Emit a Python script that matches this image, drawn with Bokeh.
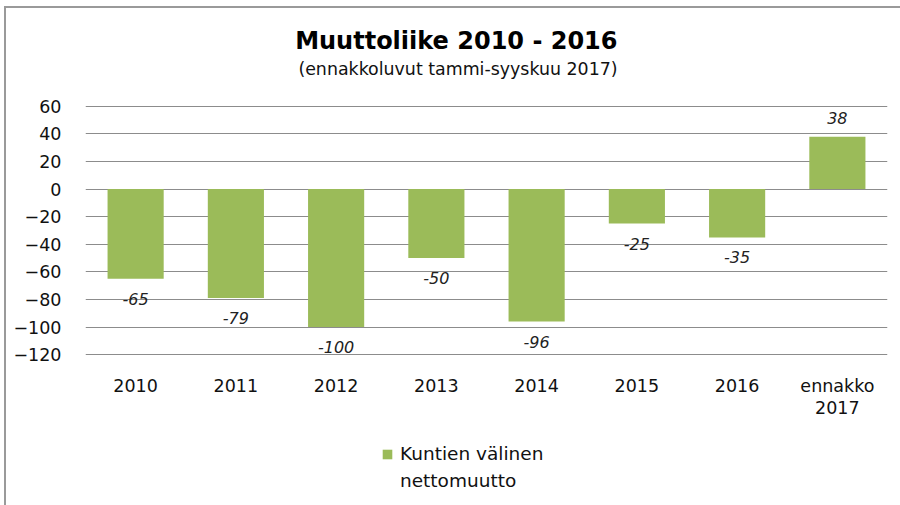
from bokeh.plotting import figure
from bokeh.models import (ColumnDataSource, LabelSet, Legend, LegendItem, FixedTicker,
                          Range1d, LinearAxis)
from bokeh.layouts import column
from bokeh.embed import file_html
from bokeh.resources import INLINE
from bokeh.core.properties import value

categories = ["2010", "2011", "2012", "2013", "2014", "2015", "2016", "ennakko 2017"]
tick_labels_line1 = ["2010", "2011", "2012", "2013", "2014", "2015", "2016", "ennakko"]
tick_labels_line2 = ["2017"]
values = [-65, -79, -100, -50, -96, -25, -35, 38]
y_ticks = [-120, -100, -80, -60, -40, -20, 0, 20, 40, 60]
series_lines = ["Kuntien välinen", "nettomuutto"]
title_text = "Muuttoliike 2010  - 2016"
subtitle_text = "(ennakkoluvut  tammi-syyskuu  2017)"

FONT = "DejaVu Sans"
GREEN = "#9BBB59"
TXT = "#111111"

idx = list(range(len(categories)))
src = ColumnDataSource(dict(
    x=idx,
    cat=categories,
    val=values,
    lab=[str(v) for v in values],
    off=[13 if v > 0 else -14 for v in values],
    base=["bottom" if v > 0 else "top" for v in values],
))

# --- title strip (page pixel coordinates) ---
tp = figure(x_range=Range1d(85, 887), y_range=Range1d(93, 8), width=894, height=85,
            output_backend="svg", toolbar_location=None,
            min_border_left=79, min_border_right=13, min_border_top=0, min_border_bottom=0)
tp.axis.visible = False
tp.grid.grid_line_color = None
tp.outline_line_color = None
tp.text(x=[460], y=[40], text=[title_text], text_align="center", text_baseline="middle",
        text_font=value(FONT), text_font_size="24px", text_font_style="bold",
        text_color="#000000")
tp.text(x=[463], y=[68], text=[subtitle_text], text_align="center", text_baseline="middle",
        text_font=value(FONT), text_font_size="17.4px", text_color=TXT)

# --- main chart ---
p = figure(x_range=Range1d(-0.5, len(categories) - 0.5), y_range=Range1d(-120.6, 60.6),
           width=894, height=345, output_backend="svg", toolbar_location=None,
           min_border_left=79, min_border_right=13, min_border_top=12, min_border_bottom=83)

r = p.vbar(x="x", top="val", bottom=0, width=0.56, source=src, fill_color=GREEN, line_color=None)

labels = LabelSet(x="x", y="val", text="lab", source=src, y_offset="off",
                  text_align="center", text_baseline="base",
                  text_font=value(FONT), text_font_size="16px", text_font_style="italic",
                  text_color="#222222")
p.add_layout(labels)

p.yaxis.ticker = FixedTicker(ticks=y_ticks)
p.yaxis.major_label_standoff = 18
p.xaxis.ticker = FixedTicker(ticks=idx)
p.xaxis.major_label_overrides = {i: t for i, t in zip(idx, tick_labels_line1)}
p.xaxis.major_label_standoff = 14

ax2 = LinearAxis(ticker=FixedTicker(ticks=idx[-1:]),
                 major_label_overrides={i: t for i, t in zip(idx[-1:], tick_labels_line2)},
                 major_label_standoff=-4)
p.add_layout(ax2, "below")

for ax in (p.xaxis[0], ax2, p.yaxis[0]):
    ax.axis_line_color = None
    ax.major_tick_line_color = None
    ax.minor_tick_line_color = None
    ax.major_label_text_font = FONT
    ax.major_label_text_font_size = "17.5px"
    ax.major_label_text_color = TXT

p.xgrid.grid_line_color = None
p.ygrid.ticker = FixedTicker(ticks=y_ticks)
p.ygrid.grid_line_color = "#8c8c8c"
p.ygrid.grid_line_width = 1
p.outline_line_color = None

# --- legend strip below the chart ---
lp = figure(x_range=Range1d(-0.5, len(categories) - 0.5), y_range=Range1d(1000, 1001),
            width=894, height=67, output_backend="svg", toolbar_location=None, min_border=0)
lr = lp.vbar(x="x", top="val", bottom=0, width=0.56, source=src, fill_color=GREEN, line_color=None)
lr2 = lp.vbar(x="x", top="val", bottom=0, width=0.56, source=src, fill_alpha=0, line_alpha=0)
lp.axis.visible = False
lp.grid.grid_line_color = None
lp.outline_line_color = None
legend = Legend(items=[LegendItem(label=series_lines[0], renderers=[lr]),
                       LegendItem(label=series_lines[1], renderers=[lr2])],
                location=(296, 11), orientation="vertical", spacing=0, padding=0, margin=0,
                label_text_font=FONT, label_text_font_size="18.5px", label_standoff=7,
                label_height=27, label_text_color=TXT, glyph_width=12, glyph_height=12,
                border_line_color=None, background_fill_alpha=0)
lp.add_layout(legend)

layout = column(tp, p, lp, spacing=0)
layout.styles = {"border-left": "2px solid #9a9a9a", "border-top": "2px solid #9a9a9a",
                 "margin-left": "4px", "margin-top": "6px"}

open("out.html", "w").write(file_html(layout, INLINE))
